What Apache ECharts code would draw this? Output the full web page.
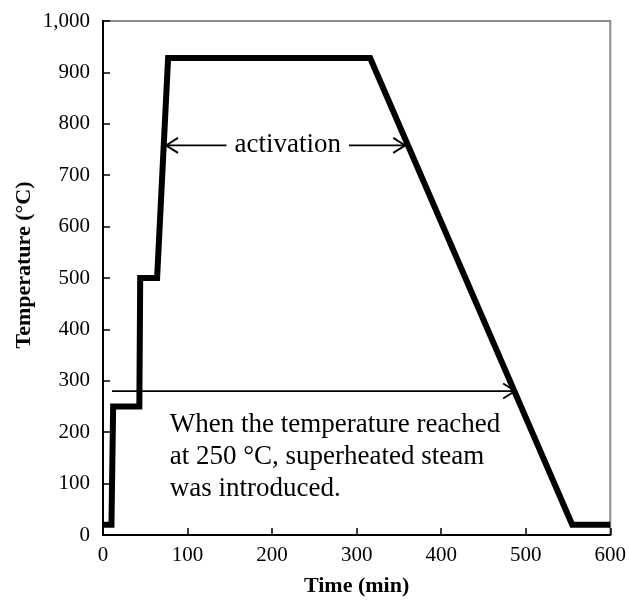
<!DOCTYPE html>
<html>
<head>
<meta charset="utf-8">
<script src="https://cdn.jsdelivr.net/npm/echarts@6/dist/echarts.min.js"></script>
<style>
html,body{margin:0;padding:0;background:#fff;}
#chart{width:629px;height:602px;}
</style>
</head>
<body>
<div id="chart"></div>
<script>
// Data
const timeMin = [0, 10, 12, 43, 44, 64, 77, 316, 555, 600];
const tempC   = [20, 20, 250, 250, 500, 500, 928, 928, 20, 20];

// Annotation anchors (data units)
const activationArrow = { y: 758, from: 74.5, to: 357.5, labelX: 218.5, label: 'activation' };
const steamArrow = { y: 280, from: 10.6, to: 487.5 };
const steamNote = { x: 79, top: 246, lines: ['When the temperature reached', 'at 250 \u00B0C, superheated steam', 'was introduced.'] };

const FONT = '"Liberation Serif", "Times New Roman", serif';
const chart = echarts.init(document.getElementById('chart'));

function head(tip, dir) {
  return {
    type: 'polyline',
    shape: { points: [[tip[0] - dir * 12, tip[1] - 7.5], tip, [tip[0] - dir * 12, tip[1] + 7.5]] },
    style: { stroke: '#000', lineWidth: 1.8, fill: null }
  };
}

chart.setOption({
  animation: false,
  backgroundColor: '#fff',
  grid: { left: 103, right: 18, top: 21, bottom: 59, show: true, borderColor: '#8a8a8a', borderWidth: 2, backgroundColor: 'transparent' },
  xAxis: {
    type: 'value', min: 0, max: 600, interval: 100,
    name: 'Time (min)', nameLocation: 'middle', nameGap: 40,
    nameTextStyle: { fontFamily: FONT, fontWeight: 'bold', fontSize: 22, color: '#000' },
    axisLine: { show: true, lineStyle: { color: '#000', width: 2 } },
    axisTick: { show: true, inside: true, length: 7, lineStyle: { color: '#000', width: 1.5 } },
    axisLabel: { fontFamily: FONT, fontSize: 21, color: '#000', margin: 10 },
    splitLine: { show: false }
  },
  yAxis: {
    type: 'value', min: 0, max: 1000, interval: 100,
    axisLine: { show: true, lineStyle: { color: '#000', width: 2 } },
    axisTick: { show: true, inside: true, length: 7, lineStyle: { color: '#000', width: 1.5 } },
    axisLabel: { fontFamily: FONT, fontSize: 21, color: '#000', margin: 13,
      formatter: v => v.toLocaleString('en-US') },
    splitLine: { show: false }
  },
  graphic: [{
    type: 'text', x: 24, y: 265, rotation: Math.PI / 2,
    style: { text: 'Temperature (\u00B0C)', font: 'bold 22px ' + FONT, fill: '#000', align: 'center', verticalAlign: 'middle' }
  }],
  series: [
    {
      type: 'line',
      data: timeMin.map((t, i) => [t, tempC[i]]),
      showSymbol: false, symbol: 'none',
      lineStyle: { color: '#000', width: 6, join: 'miter', cap: 'butt' },
      z: 3
    },
    {
      type: 'custom',
      coordinateSystem: 'cartesian2d',
      silent: true,
      clip: false,
      z: 4,
      data: [[0, 0]],
      renderItem: function (params, api) {
        const a1 = api.coord([activationArrow.from, activationArrow.y]);
        const b1 = api.coord([activationArrow.to, activationArrow.y]);
        const l1 = api.coord([activationArrow.labelX, activationArrow.y]);
        const a2 = api.coord([steamArrow.from, steamArrow.y]);
        const b2 = api.coord([steamArrow.to, steamArrow.y]);
        const n = api.coord([steamNote.x, steamNote.top]);
        return {
          type: 'group',
          children: [
            { type: 'line', shape: { x1: a1[0], y1: a1[1], x2: b1[0], y2: b1[1] }, style: { stroke: '#000', lineWidth: 1.8 } },
            head(a1, -1), head(b1, 1),
            { type: 'text', style: { text: activationArrow.label, x: l1[0], y: l1[1], align: 'center', verticalAlign: 'middle',
                font: '27px ' + FONT, fill: '#000', backgroundColor: '#fff', padding: [2, 8, 2, 8] } },
            { type: 'line', shape: { x1: a2[0], y1: a2[1], x2: b2[0], y2: b2[1] }, style: { stroke: '#000', lineWidth: 1.8 } },
            head(b2, 1),
            { type: 'text', style: { text: steamNote.lines.join('\n'), x: n[0], y: n[1], align: 'left', verticalAlign: 'top',
                font: '27px ' + FONT, lineHeight: 32, fill: '#000' } }
          ]
        };
      }
    }
  ]
});
</script>
</body>
</html>
